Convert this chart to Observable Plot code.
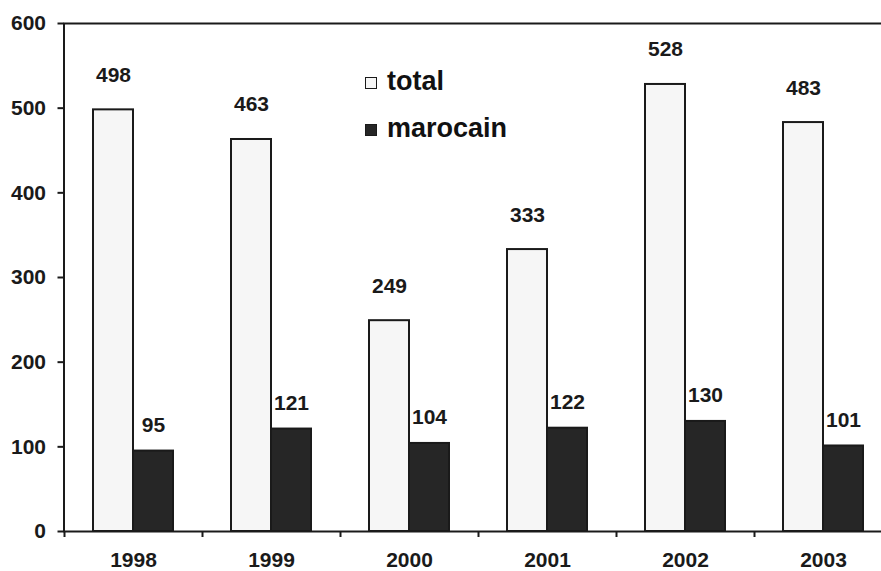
<!DOCTYPE html>
<html>
<head>
<meta charset="utf-8">
<script src="https://cdn.jsdelivr.net/npm/d3@7"></script>
<script src="https://cdn.jsdelivr.net/npm/@observablehq/plot@0.6"></script>
<style>
  html, body { margin: 0; padding: 0; background: #fff; overflow: hidden; }
  #wrap { position: relative; width: 881px; height: 571px; overflow: hidden; }
  .legend { position: absolute; left: 365px; font-family: "Liberation Sans", Arial, sans-serif; font-weight: bold; font-size: 27px; line-height: 27px; color: #111; white-space: nowrap; }
  .legend .sw { display: inline-block; width: 10px; height: 10px; border: 1.5px solid #1a1a1a; margin-right: 10px; vertical-align: 1px; }
</style>
</head>
<body>
<div id="wrap"></div>
<script>
const years = ["1998", "1999", "2000", "2001", "2002", "2003"];
const total = [498, 463, 249, 333, 528, 483];
const marocain = [95, 121, 104, 122, 130, 101];
const yTicks = [0, 100, 200, 300, 400, 500, 600];
const seriesNames = ["total", "marocain"];
const seriesFill = ["#f6f6f6", "#262626"];

const rows = years.map((y, i) => ({year: y, total: total[i], marocain: marocain[i]}));

const font = "'Liberation Sans', Arial, sans-serif";
const ink = "#1a1a1a";

const chart = Plot.plot({
  width: 892,
  height: 571,
  marginLeft: 63.5,
  marginRight: 0,
  marginTop: 23,
  marginBottom: 40,
  style: {maxWidth: "none", fontFamily: font, color: ink, background: "#fff"},
  x: {domain: years, padding: 0, label: null},
  y: {domain: [0, 600], label: null},
  marks: [
    Plot.barY(rows, {x: "year", y: "total", fill: seriesFill[0], stroke: ink, strokeWidth: 2, insetLeft: 29, insetRight: 69}),
    Plot.barY(rows, {x: "year", y: "marocain", fill: seriesFill[1], stroke: ink, strokeWidth: 2, insetLeft: 69, insetRight: 29}),
    Plot.text(rows, {x: "year", y: "total", text: d => String(d.total), dx: -20, dy: -28, lineAnchor: "bottom", fontSize: 21, fontWeight: "bold", fill: ink}),
    Plot.text(rows, {x: "year", y: "marocain", text: d => String(d.marocain), dx: 20, dy: -19, lineAnchor: "bottom", fontSize: 21, fontWeight: "bold", fill: ink}),
    Plot.frame({stroke: ink, strokeWidth: 2}),
    Plot.axisY({ticks: yTicks, tickSize: 6, tickPadding: 12, fontSize: 21, fontWeight: "bold", stroke: ink, strokeWidth: 2, fill: ink, label: null}),
    Plot.axisX({tickSize: 0, tickPadding: 21, fontSize: 21, fontWeight: "bold", fill: ink, label: null}),
    Plot.axisX({tickSize: 6, tickFormat: () => "", dx: -69, stroke: ink, strokeWidth: 2, label: null})
  ]
});

const wrap = document.getElementById("wrap");
wrap.appendChild(chart);

const legendTops = [68, 115];
seriesNames.forEach((name, i) => {
  const div = document.createElement("div");
  div.className = "legend";
  div.style.top = legendTops[i] + "px";
  const sw = document.createElement("span");
  sw.className = "sw";
  sw.style.background = seriesFill[i];
  div.appendChild(sw);
  div.appendChild(document.createTextNode(name));
  wrap.appendChild(div);
});
</script>
</body>
</html>
